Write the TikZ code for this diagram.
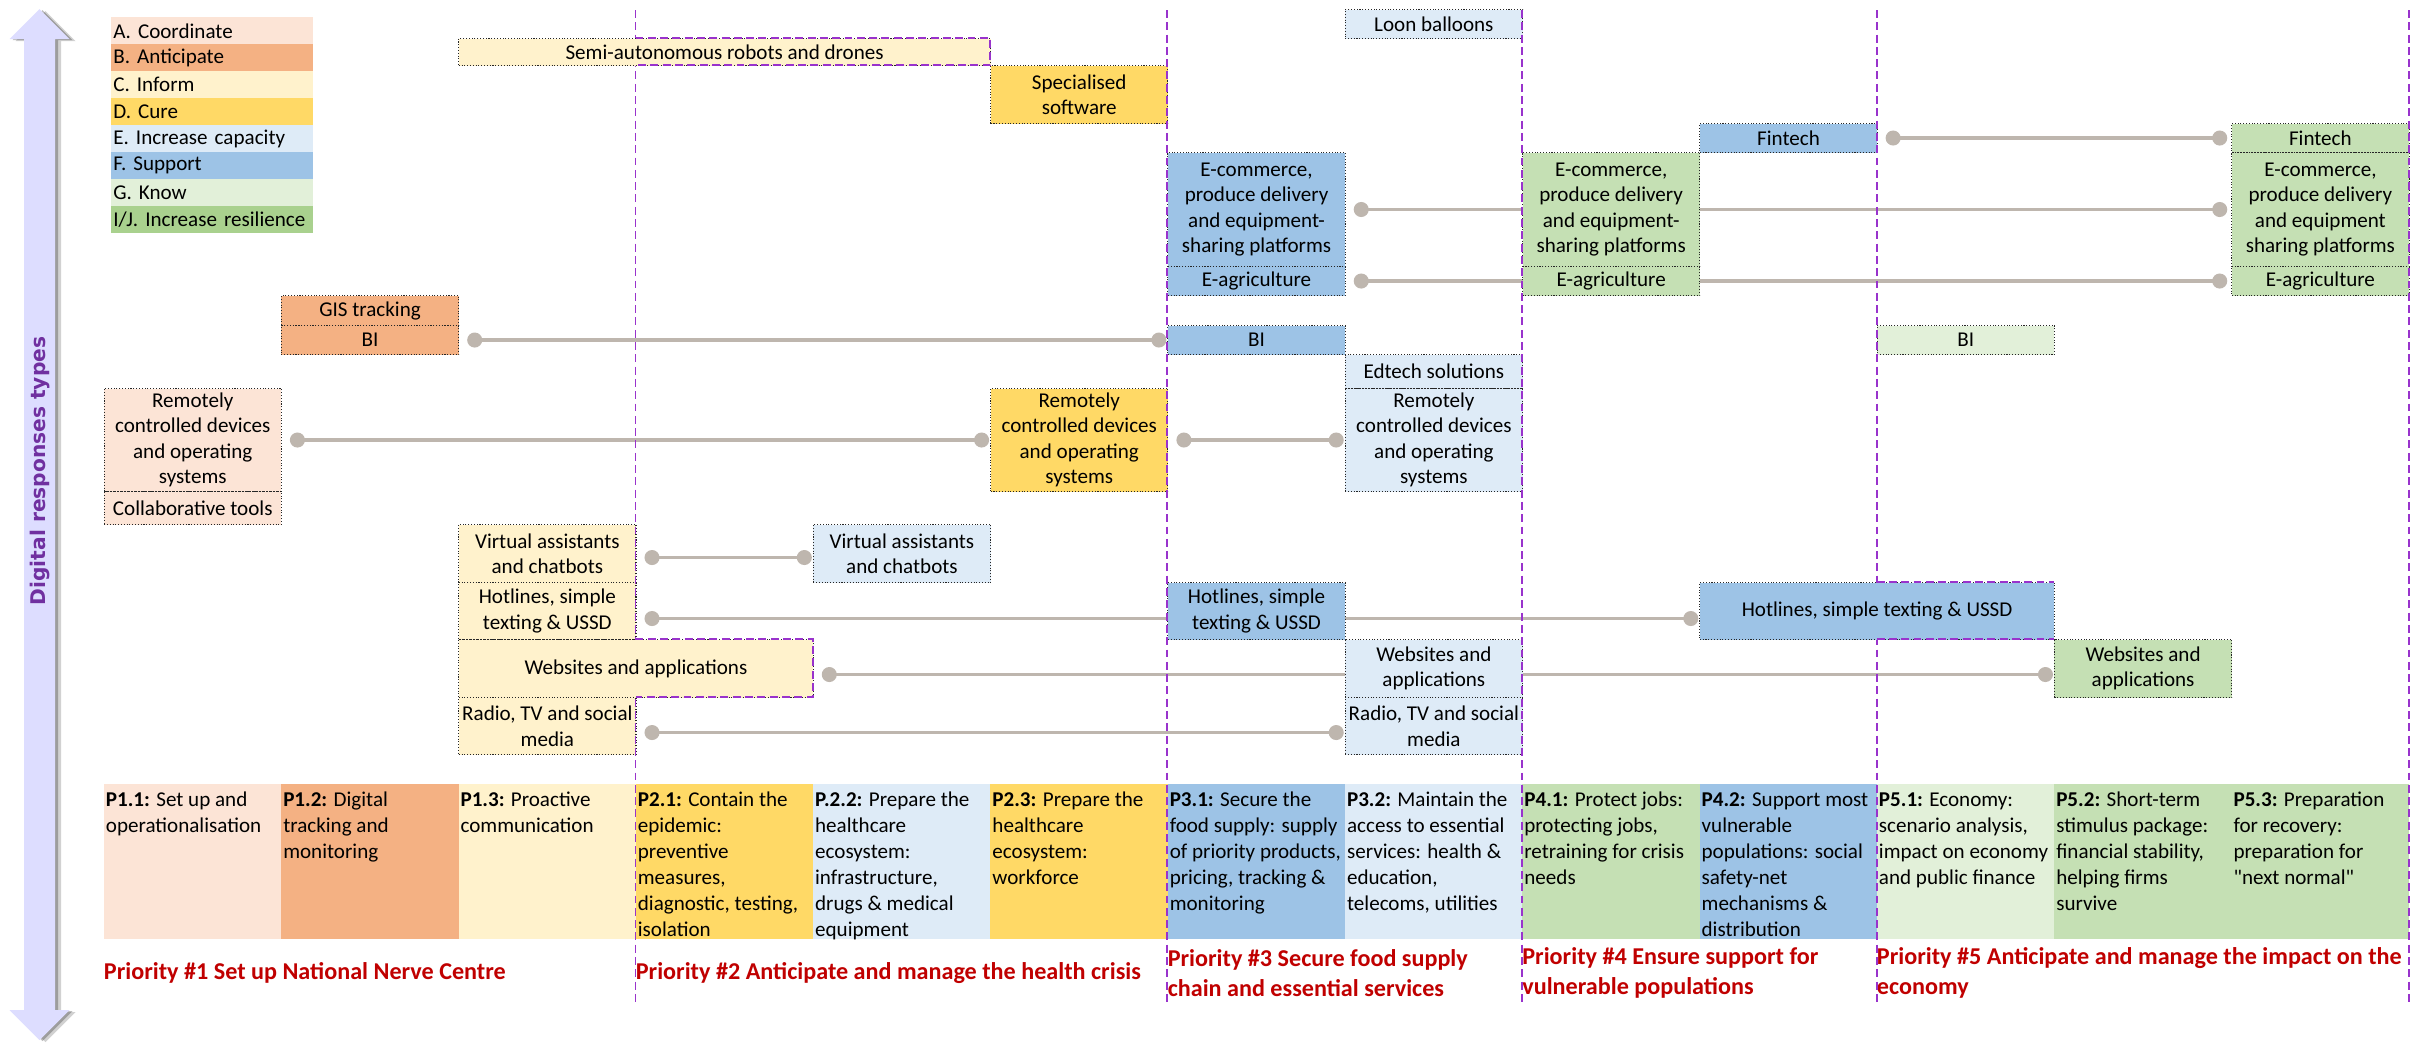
\documentclass[tikz,border=0pt]{standalone}
\usepackage{fontspec}
\setmainfont{Carlito}
\newfontfamily\axisfont{DejaVu Sans}
\usetikzlibrary{arrows.meta}

\definecolor{colA}{HTML}{FCE4D6}
\definecolor{colB}{HTML}{F4B183}
\definecolor{colC}{HTML}{FFF2CC}
\definecolor{colD}{HTML}{FFD966}
\definecolor{colE}{HTML}{DEEBF7}
\definecolor{colF}{HTML}{9DC3E6}
\definecolor{colG}{HTML}{E2F0D9}
\definecolor{colIJ}{HTML}{C5E0B4}
\definecolor{colIJl}{HTML}{A9D18E}
\definecolor{prired}{HTML}{C00000}
\definecolor{purp}{HTML}{7030A0}
\definecolor{divp}{RGB}{153,51,204}
\definecolor{lineg}{RGB}{190,182,174}
\definecolor{arrowc}{RGB}{221,221,255}

\pgfdeclarelayer{bg}
\pgfdeclarelayer{fg}
\pgfsetlayers{bg,main,fg}

\tikzset{
	cell/.style={draw=black!85, densely dotted, line width=0.6pt, inner sep=0pt, align=center, anchor=north west, minimum width=3.546cm, font=\fontsize{12}{14.5}\selectfont},
	conn/.style={draw=lineg, line width=1.8pt, {Circle[length=0.3cm]}-{Circle[length=0.3cm]}},
	divider/.style={draw=divp, line width=1.1pt, dash pattern=on 4.5pt off 2.5pt},
	legrow/.style={anchor=north west, inner xsep=0.04cm, inner ysep=0pt, text width=3.96cm, minimum height=0.54cm, align=left, font=\fontsize{12}{14.5}\selectfont},
	prio/.style={anchor=north west, inner xsep=0.04cm, inner ysep=0pt, font=\fontsize{12}{14.8}\selectfont},
	ptitle/.style={anchor=west, inner sep=0pt, align=left, text=prired, font=\fontsize{13.75}{17.5}\selectfont\bfseries}
}
\def\pbox#1{\parbox[t][3.1cm][t]{3.466cm}{\vspace*{2pt}\raggedright\strut#1}}

\begin{document}
\begin{tikzpicture}[x=0.02cm,y=-0.02cm]
			%%%%% START %%%%%
			\useasboundingbox (0,0) rectangle (2433,1045);
			
			% legend
			\foreach \lab/\col [count=\i from 0] in {A. Coordinate/colA, B. Anticipate/colB, C. Inform/colC, D. Cure/colD, E. Increase capacity/colE, F. Support/colF, G. Know/colG, {I/J. Increase resilience}/colIJl}
				\node[legrow, fill=\col] (leg\i) at (111,{17+27*\i}) {\lab};
			
			% responses
			\node[cell, fill=colE, minimum height=0.58cm] (loon) at (1344.7,9) {Loon balloons};
			\node[cell, fill=colD, minimum height=1.16cm] (soft) at (990.1,65) {Specialised\\software};
			
			\node[cell, fill=colF, minimum height=0.58cm] (finf) at (1699.3,123) {Fintech};
			\node[cell, fill=colIJ, minimum height=0.58cm] (fing) at (2231.2,123) {Fintech};
			
			\node[cell, fill=colF, minimum height=2.28cm] (ecomf) at (1167.4,152) {E-commerce,\\produce delivery\\and equipment-\\sharing platforms};
			\node[cell, fill=colF, minimum height=0.58cm] (eagrf) at (1167.4,266) {E-agriculture};
			\node[cell, fill=colIJ, minimum height=2.28cm] (ecomg) at (1522,152) {E-commerce,\\produce delivery\\and equipment-\\sharing platforms};
			\node[cell, fill=colIJ, minimum height=0.58cm] (eagrg) at (1522,266) {E-agriculture};
			\node[cell, fill=colIJ, minimum height=2.28cm] (ecomr) at (2231.2,152) {E-commerce,\\produce delivery\\and equipment\\sharing platforms};
			\node[cell, fill=colIJ, minimum height=0.58cm] (eagrr) at (2231.2,266) {E-agriculture};
			
			\node[cell, fill=colB, minimum height=0.6cm] (gis) at (280.9,295) {GIS tracking};
			\node[cell, fill=colB, minimum height=0.58cm] (bib) at (280.9,325) {BI};
			\node[cell, fill=colF, minimum height=0.58cm] (bif) at (1167.4,325) {BI};
			\node[cell, fill=colG, minimum height=0.58cm] (big) at (1876.6,325) {BI};
			
			\node[cell, fill=colE, minimum height=0.68cm] (edt) at (1344.7,354) {Edtech solutions};
			\node[cell, fill=colA, minimum height=2.06cm] (rema) at (103.6,388) {Remotely\\controlled devices\\and operating\\systems};
			\node[cell, fill=colA, minimum height=0.66cm] (coll) at (103.6,491) {Collaborative tools};
			\node[cell, fill=colD, minimum height=2.06cm] (remd) at (990.1,388) {Remotely\\controlled devices\\and operating\\systems};
			\node[cell, fill=colE, minimum height=2.06cm] (reme) at (1344.7,388) {Remotely\\controlled devices\\and operating\\systems};
			
			\node[cell, fill=colC, minimum height=1.16cm] (virc) at (458.2,524) {Virtual assistants\\and chatbots};
			\node[cell, fill=colE, minimum height=1.16cm] (vire) at (812.8,524) {Virtual assistants\\and chatbots};
			\node[cell, fill=colC, minimum height=1.14cm] (hotc) at (458.2,582) {Hotlines, simple\\texting \& USSD};
			\node[cell, fill=colF, minimum height=1.14cm] (hotf) at (1167.4,582) {Hotlines, simple\\texting \& USSD};
			\node[cell, fill=colE, minimum height=1.16cm] (webe) at (1344.7,639) {Websites and\\applications};
			\node[cell, fill=colIJ, minimum height=1.16cm] (webg) at (2053.9,639) {Websites and\\applications};
			\node[cell, fill=colC, minimum height=1.14cm] (radc) at (458.2,697) {Radio, TV and social\\media};
			\node[cell, fill=colE, minimum height=1.14cm] (rade) at (1344.7,697) {Radio, TV and social\\media};
			
			% priorities
			\node[prio, fill=colA] (p11) at (103.6,784) {\pbox{\textbf{P1.1:} Set up and\\operationalisation}};
			\node[prio, fill=colB] (p12) at (280.9,784) {\pbox{\textbf{P1.2:} Digital\\tracking and\\monitoring}};
			\node[prio, fill=colC] (p13) at (458.2,784) {\pbox{\textbf{P1.3:} Proactive\\communication}};
			\node[prio, fill=colD] (p21) at (635.5,784) {\pbox{\textbf{P2.1:} Contain the\\epidemic:\\preventive\\measures,\\diagnostic, testing,\\isolation}};
			\node[prio, fill=colE] (p22) at (812.8,784) {\pbox{\textbf{P.2.2:} Prepare the\\healthcare\\ecosystem:\\infrastructure,\\drugs \& medical\\equipment}};
			\node[prio, fill=colD] (p23) at (990.1,784) {\pbox{\textbf{P2.3:} Prepare the\\healthcare\\ecosystem:\\workforce}};
			\node[prio, fill=colF] (p31) at (1167.4,784) {\pbox{\textbf{P3.1:} Secure the\\food supply: supply\\of priority products,\\pricing, tracking \&\\monitoring}};
			\node[prio, fill=colE] (p32) at (1344.7,784) {\pbox{\textbf{P3.2:} Maintain the\\access to essential\\services: health \&\\education,\\telecoms, utilities}};
			\node[prio, fill=colIJ] (p41) at (1522,784) {\pbox{\textbf{P4.1:} Protect jobs:\\protecting jobs,\\retraining for crisis\\needs}};
			\node[prio, fill=colF] (p42) at (1699.3,784) {\pbox{\textbf{P4.2:} Support most\\vulnerable\\populations: social\\safety-net\\mechanisms \&\\distribution}};
			\node[prio, fill=colG] (p51) at (1876.6,784) {\pbox{\textbf{P5.1:} Economy:\\scenario analysis,\\impact on economy\\and public finance}};
			\node[prio, fill=colIJ] (p52) at (2053.9,784) {\pbox{\textbf{P5.2:} Short-term\\stimulus package:\\financial stability,\\helping firms\\survive}};
			\node[prio, fill=colIJ] (p53) at (2231.2,784) {\pbox{\textbf{P5.3:} Preparation\\for recovery:\\preparation for\\\textquotedbl next normal\textquotedbl}};
			
			\node[ptitle] (pri1) at (103.6,973) {Priority \#1 Set up National Nerve Centre};
			\node[ptitle] (pri2) at (635.5,973) {Priority \#2 Anticipate and manage the health crisis};
			\node[ptitle] (pri3) at (1167.4,973) {Priority \#3 Secure food supply\\chain and essential services};
			\node[ptitle] (pri4) at (1522,973) {Priority \#4 Ensure support for\\vulnerable populations};
			\node[ptitle] (pri5) at (1876.6,973) {Priority \#5 Anticipate and manage the impact on the\\economy};
			
			\node[rotate=90, inner sep=0pt, text=purp, font=\axisfont\bfseries\fontsize{11.5}{14}\selectfont] (axis) at (40,471) {Digital responses types};
			
			% priority dividers
			\foreach \xd in {635.5,1167.4,1522,1876.6,2408.5}
				\draw[divider] (\xd,10) -- (\xd,1002);
			
			% boxes across a divider, on top
			\begin{pgfonlayer}{fg}
				\node[cell, fill=colC, minimum height=0.54cm, minimum width=10.638cm] (semi) at (458.2,38) {Semi-autonomous robots and drones};
				\node[cell, fill=colC, minimum height=1.16cm, minimum width=7.092cm] (webc) at (458.2,639) {Websites and applications};
				\node[cell, fill=colF, minimum height=1.14cm, minimum width=7.092cm] (hotw) at (1699.3,582) {Hotlines, simple texting \& USSD};
				\draw[divider] (635.5,38) -- (990.1,38) -- (990.1,65) -- (635.5,65);
				\draw[divider] (635.5,639) -- (812.8,639) -- (812.8,697) -- (635.5,697);
				\draw[divider] (1876.6,582) -- (2053.9,582);
				\draw[divider] (1876.6,639) -- (2053.9,639);
			\end{pgfonlayer}
			
			% axis arrow and connectors behind
			\begin{pgfonlayer}{bg}
				\fill[black, opacity=0.18] (45.5,11) -- (75.5,41) -- (61,41) -- (61,1012) -- (75.5,1012) -- (45.5,1042) -- (15.5,1012) -- (30,1012) -- (30,41) -- (15.5,41) -- cycle;
				\fill[black, opacity=0.25] (42.5,10) -- (72.5,40) -- (58,40) -- (58,1011) -- (72.5,1011) -- (42.5,1041) -- (12.5,1011) -- (27,1011) -- (27,40) -- (12.5,40) -- cycle;
				\fill[arrowc] (39.5,9) -- (69.5,39) -- (55,39) -- (55,1010) -- (69.5,1010) -- (39.5,1040) -- (9.5,1010) -- (24,1010) -- (24,39) -- (9.5,39) -- cycle;
				
				\draw[conn] ([xshift=0.16cm]bib.east) -- ([xshift=-0.02cm]bif.west);
				\draw[conn] ([xshift=0.16cm]rema.east) -- ([xshift=-0.02cm]remd.west);
				\draw[conn] ([xshift=0.16cm]remd.east) -- ([xshift=-0.02cm]reme.west);
				\draw[conn] ([xshift=0.16cm,yshift=-0.08cm]virc.east) -- ([xshift=-0.02cm,yshift=-0.08cm]vire.west);
				\draw[conn] ([xshift=0.16cm,yshift=-0.15cm]hotc.east) -- ([xshift=-0.02cm,yshift=-0.15cm]hotw.west);
				\draw[conn] ([xshift=0.16cm,yshift=-0.12cm]webc.east) -- ([xshift=-0.02cm,yshift=-0.12cm]webg.west);
				\draw[conn] ([xshift=0.16cm,yshift=-0.13cm]radc.east) -- ([xshift=-0.02cm,yshift=-0.13cm]rade.west);
				\draw[conn] ([xshift=0.16cm]ecomf.east) -- ([xshift=-0.08cm]ecomr.west);
				\draw[conn] ([xshift=0.16cm]eagrf.east) -- ([xshift=-0.08cm]eagrr.west);
				\draw[conn] ([xshift=0.16cm]finf.east) -- ([xshift=-0.08cm]fing.west);
			\end{pgfonlayer}
			
			%%%%% END %%%%%
\end{tikzpicture}
\end{document}
